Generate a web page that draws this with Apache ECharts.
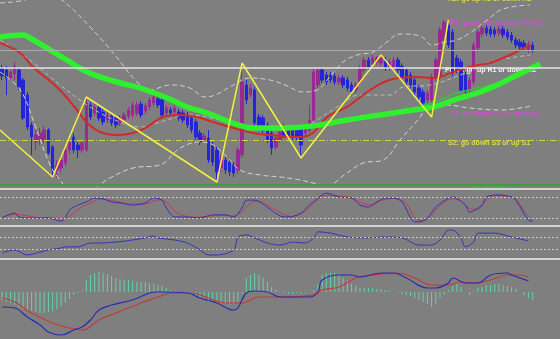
<!DOCTYPE html>
<html>
<head>
<meta charset="utf-8">
<script src="https://cdn.jsdelivr.net/npm/echarts@6/dist/echarts.min.js"></script>
<style>
html,body{margin:0;padding:0;background:#7f7f7f;}
#c{width:560px;height:339px;}
</style>
</head>
<body>
<div id="c"></div>
<script>
// ---- main pane: candles [open, close, low, high]
const candles = [
[122,114,110,125],[120,112,95,124],[112,118,110,120],[116,124,110,128],[120,103,100,122],
[110,72,70,112],[95,63,60,98],[65,53,35,68],[48,55,40,60],[50,57,45,62],
[50,60,47,64],[60,37,35,62],[43,20,13,45],[20,25,12,30],[22,30,18,34],
[27,40,24,43],[40,47,36,50],[53,40,37,57],[45,40,32,48],[40,47,37,50],
[40,87,38,93],[85,73,70,88],[77,83,74,86],[82,72,69,85],[78,68,65,81],
[70,75,67,78],[74,67,64,77],[72,65,62,75],[67,72,64,75],[70,75,67,78],
[74,80,71,83],[75,85,72,88],[77,85,74,88],[86,75,72,89],[79,84,76,87],
[83,90,80,93],[87,93,84,96],[91,85,82,94],[90,75,72,93],[77,82,74,85],
[80,77,74,83],[78,82,75,85],[78,72,69,81],[77,70,67,80],[75,65,62,78],
[72,60,57,75],[68,53,50,71],[57,48,45,60],[50,54,47,57],[52,30,27,60],
[45,28,24,48],[40,18,8,43],[22,30,18,34],[30,20,16,33],[28,18,14,31],
[25,17,13,28],[20,40,16,43],[35,108,32,127],[105,90,86,110],[95,102,92,106],
[100,67,64,103],[73,65,62,76],[72,60,57,75],[65,50,47,68],[57,42,35,60],
[43,52,40,55],[50,58,47,61],[63,55,52,66],[60,54,51,63],[60,53,50,63],
[62,53,50,65],[63,45,32,66],[57,64,54,67],[60,70,57,85],[70,118,67,122],
[105,120,102,123],[120,110,107,123],[115,108,105,118],[115,110,107,118],[114,108,105,117],
[108,112,105,115],[112,105,102,115],[110,102,99,113],[105,98,95,108],[100,105,97,108],
[108,122,105,125],[120,130,117,133],[130,123,120,133],[126,132,123,135],[128,132,125,134],
[127,133,124,135],[130,122,119,133],[122,128,119,131],[123,130,120,133],[130,120,117,133],
[124,112,109,127],[120,108,105,123],[115,105,102,118],[110,98,95,113],[102,93,90,105],
[98,87,82,101],[90,97,87,100],[90,113,73,116],[112,130,109,133],[113,160,110,163],
[150,168,147,170],[165,145,142,170],[158,117,114,161],[132,120,117,135],[128,100,97,131],
[115,98,93,118],[100,110,97,113],[108,145,105,148],[142,158,139,161],[156,162,153,165],
[162,157,154,165],[161,156,153,164],[160,156,153,163],[157,161,154,164],[161,155,152,164],
[158,153,150,161],[155,150,147,158],[150,145,142,153],[148,143,140,151],[147,142,139,150],
[140,146,137,149],[145,140,137,148]
];
const slotCount = 133;

const greenMA = [[-0.5,153],[5,155],[6.6,152],[15.4,130],[20.2,118],[27.3,108],[32.8,102],[39.2,92],[43.9,83],[48.7,77],[54.8,67],[59.6,62],[66,62],[73.8,64],[81.9,70],[89.8,75],[97.6,80],[102.4,83],[108,91],[113.5,98],[117.6,105],[121.4,113],[127.8,126]];
const greenThin = [[95,79],[99,83],[102,87],[105,92],[108,97],[111,100],[114,103],[117,106]];
const redMA = [[-0.5,147],[4.3,137],[7.3,123],[13,103],[17.8,80],[20.2,67],[23.3,58],[27.3,55],[31.1,57],[34.4,63],[38.2,73],[42.3,75],[46.3,73],[50.1,68],[54.8,62],[59.6,57],[66,54],[70.8,53],[73.8,57],[77.2,73],[81.9,83],[87.4,100],[92.8,111],[98.5,113],[102.4,112],[107.1,118],[111.9,124],[115.9,127],[120.6,135],[125.4,145]];
const bandUpper = [[-0.5,187],[5.4,190],[10.2,198],[14.2,190],[20.9,163],[26.8,135],[31.6,110],[35.1,100],[39.9,105],[44.6,102],[48.2,93],[50.6,95],[54.1,103],[58.9,112],[63.6,110],[67.2,105],[71.5,98],[74.8,100],[77.2,110],[81,128],[84.3,135],[88.1,138],[91.4,148],[94.5,156],[99.3,154],[102.1,145],[105.2,148],[108,150],[111.1,157],[115.2,170],[119,181],[125.4,185]];
const bandMiddle = [[-0.5,150],[6.6,130],[13.8,105],[20.9,83],[26.8,70],[32.8,63],[37.5,68],[44.6,75],[51.8,70],[58.9,62],[66,60],[70.8,62],[75.5,72],[80.3,85],[85,95],[92.1,95],[95.2,103],[101.6,105],[108.8,115],[115.9,128],[120.6,132],[125.4,135]];
const bandLower = [[-0.5,118],[4.3,100],[7.8,65],[11.4,25],[13.8,10],[16.6,-2],[20.9,0],[25.6,12],[31.1,22],[37.5,25],[42.3,42],[47,48],[50.1,45],[53.4,33],[56.5,20],[61.3,15],[66,13],[70.8,10],[77.2,5],[81.9,17],[85.7,27],[90.5,30],[94.5,50],[99.3,73],[100.9,83],[105.7,85],[111.1,82],[118.3,80],[124.7,83],[125.4,84]];
const zigzag = [[-0.5,60],[12,13],[20,93],[51,8],[57,127],[71,32],[90,135],[102,73],[106,170]];

// pivot levels (main pane values)
const levelGray = 140, levelPivot = 122, levelS2 = 50, levelS3 = 5;
const pivotTexts = [
  {t:'R2: go up R3 or down R1', c:'#dcdc40'},
  {t:'R1: go up R2 or down Pivot', c:'#cf50cf'},
  {t:'Pivot: go up R1 or down S1', c:'#f4f4f4'},
  {t:'S1: go down S2 or up Pivot', c:'#cf50cf'},
  {t:'S2: go down S3 or up S1', c:'#dcdc40'},
  {t:'S3: go up S2', c:'#3fbf3f'}
];

// ---- stochastic pane (0..100)
const stochMain = [[0,20],[3,34],[4,23],[7,20],[11,20],[14,11],[15,20],[16,43],[18,57],[20,66],[22,77],[23,77],[26,66],[28,63],[31,57],[34,63],[36,77],[38,71],[39,49],[41,23],[44,23],[47,20],[50,29],[53,29],[55,23],[57,49],[58,71],[60,71],[63,51],[66,26],[68,23],[71,34],[73,57],[76,86],[77,91],[80,80],[83,77],[85,57],[87,51],[89,66],[91,77],[93,77],[95,66],[98,9],[99,9],[101,20],[103,51],[106,77],[107,80],[110,57],[111,37],[114,57],[115,80],[118,86],[121,80],[122,71],[125,14],[126,11]];
const stochSignal = [[0,23],[3,31],[5,28],[8,22],[12,20],[15,18],[17,35],[19,52],[21,63],[23,74],[25,72],[28,65],[31,60],[34,60],[37,72],[39,66],[41,40],[43,27],[46,22],[49,25],[52,28],[55,26],[57,38],[59,62],[61,68],[64,50],[67,30],[69,24],[72,40],[74,62],[77,85],[80,83],[83,78],[86,60],[88,58],[90,70],[93,76],[96,62],[98,20],[100,12],[102,28],[104,55],[107,75],[109,68],[111,47],[113,45],[115,70],[117,84],[120,82],[122,75],[124,40],[126,15]];
const stochLevels = [80, 20];

// ---- RSI pane (0..100)
const rsiLine = [[0,17],[3,27],[6,10],[9,20],[11,27],[14,33],[15,37],[18,37],[21,50],[23,50],[27,53],[31,60],[34,67],[36,73],[37,67],[41,60],[44,50],[47,27],[49,10],[51,10],[55,27],[56,70],[58,77],[60,67],[63,50],[66,43],[69,53],[72,50],[74,67],[75,87],[78,83],[82,70],[86,67],[91,70],[95,67],[99,43],[102,43],[104,60],[106,93],[107,93],[109,67],[110,37],[112,53],[113,83],[117,83],[121,70],[125,57]];
const rsiLevels = [70, 30];

// ---- MACD pane
const macdMain = [[0,-15],[3,-16],[6,-25],[9,-33],[11,-40],[14,-43],[17,-38],[19,-35],[21,-28],[23,-18],[26,-13],[31,-8],[35,-1],[37,0],[44,-1],[47,-6],[51,-11],[55,-18],[56,-16],[58,-1],[60,1],[63,0],[66,-5],[73,-5],[75,0],[76,12],[80,17],[83,17],[85,15],[90,19],[93,19],[96,14],[101,4],[103,4],[106,9],[107,14],[110,9],[113,9],[116,17],[120,19],[121,17],[125,11]];
const macdSignal = [[0,-6],[3,-10],[7,-21],[12,-31],[16,-36],[19,-38],[23,-28],[27,-21],[33,-11],[37,-5],[41,-1],[45,-1],[49,-6],[53,-11],[57,-11],[61,-5],[66,-5],[74,-3],[76,2],[80,5],[84,14],[88,17],[94,19],[98,14],[102,7],[106,7],[109,10],[112,9],[116,12],[120,17],[123,17],[125,15]];
const macdHist = [-8,-10,-11,-13,-15,-17,-18,-19,-20,-21,-21,-20,-19,-17,-14,-11,-7,
-3,-1,1,12,
17,19,20,19,18,16,14,13,12,12,11,10,10,10,9,8,7,6,4,2,1,0,0,
-1,-3,-5,-6,-8,-10,-10,-11,-12,-12,-13,-12,-10,-2,
14,17,19,17,14,10,5,2,0,
-1,-2,-2,-1,-2,-1,0,2,
8,17,19,19,19,17,14,12,8,6,4,4,4,4,3,3,2,1,0,
-1,-2,-3,-4,-6,-8,-10,-12,-15,-12,-6,-3,
2,6,8,5,0,
-3,
1,4,5,7,7,8,8,7,6,5,3,0,
-3,-6,-8];

const slots = [];
for (let i = 0; i < slotCount; i++) slots.push(String(i));

const chart = echarts.init(document.getElementById('c'), null, {renderer:'canvas'});
const vx = {type:'value', min:-0.5, max:slotCount-0.5, show:false};
const noY = {show:false, splitLine:{show:false}};
const lvl = (v, color, width, type) => ({yAxis:v, lineStyle:{color:color, width:width, type:type}});

const textY = [-4, 20, 67, 111, 140, 184];
const textX = [448, 450, 445, 450, 448, 472];

chart.setOption({
  animation:false,
  backgroundColor:'#7f7f7f',
  grid:[
    {left:0, right:0, top:0, height:186},
    {left:0, right:0, top:190, height:35},
    {left:0, right:0, top:228, height:30},
    {left:0, right:0, top:261, height:78}
  ],
  xAxis:[
    {type:'category', gridIndex:0, data:slots, show:false, boundaryGap:true},
    Object.assign({gridIndex:0}, vx),
    Object.assign({gridIndex:1}, vx),
    Object.assign({gridIndex:2}, vx),
    {type:'category', gridIndex:3, data:slots, show:false, boundaryGap:true},
    Object.assign({gridIndex:3}, vx)
  ],
  yAxis:[
    Object.assign({gridIndex:0, min:4, max:190}, noY),
    Object.assign({gridIndex:1, min:0, max:100}, noY),
    Object.assign({gridIndex:2, min:0, max:100}, noY),
    Object.assign({gridIndex:3, min:-47, max:31}, noY)
  ],
  graphic:[
    ...pivotTexts.map((p, k) => ({type:'text', left:textX[k], top:textY[k], z:1,
      style:{text:p.t, fill:p.c, font:'bold 7px "Liberation Sans"'}})),
    {type:'rect', shape:{x:0, y:188, width:560, height:2}, style:{fill:'#d4d4d4'}, z:10},
    {type:'rect', shape:{x:0, y:225, width:560, height:2}, style:{fill:'#d4d4d4'}, z:10},
    {type:'rect', shape:{x:0, y:258, width:560, height:2}, style:{fill:'#d4d4d4'}, z:10}
  ],
  series:[
    {type:'candlestick', xAxisIndex:0, yAxisIndex:0, data:candles, barWidth:3,
     itemStyle:{color:'#992a92', color0:'#2424d8', borderColor:'#992a92', borderColor0:'#2424d8', borderWidth:1},
     markLine:{silent:true, symbol:'none', label:{show:false}, animation:false,
       data:[lvl(levelGray,'#ababab',1,'solid'), lvl(levelPivot,'#e4e4e4',1.5,'solid'),
             lvl(levelS2,'#d4d43c',1,[6,2,1,2]), lvl(levelS3,'#3c9e3c',2,'solid')]}},
    {type:'line', xAxisIndex:1, yAxisIndex:0, data:bandUpper, smooth:0.4, symbol:'none',
     lineStyle:{color:'#d0d0d0', width:1, type:[5,3]}},
    {type:'line', xAxisIndex:1, yAxisIndex:0, data:bandMiddle, smooth:0.4, symbol:'none',
     lineStyle:{color:'#bdbdbd', width:1, type:[4,3]}},
    {type:'line', xAxisIndex:1, yAxisIndex:0, data:bandLower, smooth:0.4, symbol:'none',
     lineStyle:{color:'#d6d6d6', width:1, type:[5,3]}},
    {type:'line', xAxisIndex:1, yAxisIndex:0, data:redMA, smooth:0.4, symbol:'none',
     lineStyle:{color:'#d22a2a', width:2}},
    {type:'line', xAxisIndex:1, yAxisIndex:0, data:greenThin, smooth:0.4, symbol:'none',
     lineStyle:{color:'#36c436', width:1.5}},
    {type:'line', xAxisIndex:1, yAxisIndex:0, data:greenMA, smooth:0.4, symbol:'none',
     lineStyle:{color:'#2ef02e', width:5.5}},
    {type:'line', xAxisIndex:1, yAxisIndex:0, data:zigzag, symbol:'none',
     lineStyle:{color:'#f2f23c', width:1.5}},
    // stochastic
    {type:'line', xAxisIndex:2, yAxisIndex:1, data:stochSignal, smooth:0.3, symbol:'none',
     lineStyle:{color:'#c83a4a', width:1}},
    {type:'line', xAxisIndex:2, yAxisIndex:1, data:stochMain, smooth:0.3, symbol:'none',
     lineStyle:{color:'#3434b8', width:1},
     markLine:{silent:true, symbol:'none', label:{show:false},
       data:stochLevels.map(v => lvl(v,'#c8c8c8',1,[2,2]))}},
    // RSI
    {type:'line', xAxisIndex:3, yAxisIndex:2, data:rsiLine, smooth:0.3, symbol:'none',
     lineStyle:{color:'#3434b8', width:1},
     markLine:{silent:true, symbol:'none', label:{show:false},
       data:rsiLevels.map(v => lvl(v,'#c8c8c8',1,[2,2]))}},
    // MACD
    {type:'bar', xAxisIndex:4, yAxisIndex:3, data:macdHist, barWidth:1,
     itemStyle:{color:'#62d2aa'}},
    {type:'line', xAxisIndex:5, yAxisIndex:3, data:macdSignal, smooth:0.4, symbol:'none',
     lineStyle:{color:'#c83a3a', width:1.2}},
    {type:'line', xAxisIndex:5, yAxisIndex:3, data:macdMain, smooth:0.4, symbol:'none',
     lineStyle:{color:'#2b2bb0', width:1.2}}
  ]
});
</script>
</body>
</html>
